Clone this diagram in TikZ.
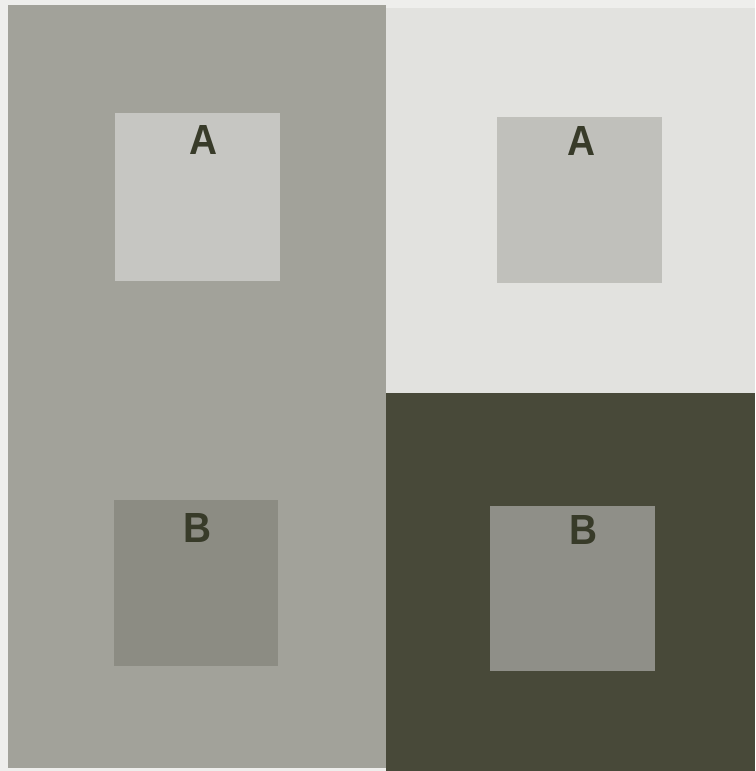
\documentclass[tikz,border=0pt]{standalone}
\usepackage{fontspec}
\setsansfont{Liberation Sans}
\usepackage{xcolor}
\usetikzlibrary{positioning}

\definecolor{paper}{HTML}{EEEEEC}
\definecolor{midgrey}{HTML}{A2A29A}
\definecolor{lightgrey}{HTML}{E2E2DF}
\definecolor{darkolive}{HTML}{484939}
\definecolor{patchA}{HTML}{C6C6C2}
\definecolor{patchAr}{HTML}{C0C0BB}
\definecolor{patchB}{HTML}{8C8C83}
\definecolor{patchBr}{HTML}{8F8F88}
\definecolor{ink}{HTML}{383B29}

\begin{document}
\begin{tikzpicture}[
    x=0.02cm, y=-0.02cm,
    panel/.style={rectangle, draw=none, anchor=north west, inner sep=0pt},
    patch/.style={rectangle, draw=none, anchor=north west, inner sep=0pt, minimum width=3.3cm, minimum height=3.34cm},
    letter/.style={font=\sffamily\bfseries\fontsize{24}{28}\selectfont, text=ink, inner sep=0pt, xscale=0.92},
]

\useasboundingbox (0,0) rectangle (755,771);
\fill[paper] (0,0) rectangle (755,771);

% backgrounds
\node[panel, fill=midgrey, minimum width=7.56cm, minimum height=15.26cm] (left) at (8,5) {};
\node[panel, fill=lightgrey, minimum width=7.38cm, minimum height=7.7cm] (topright) at (386,8) {};
\node[panel, fill=darkolive, minimum width=7.38cm, minimum height=7.56cm] (botright) at (386,393) {};

% test patches
\node[patch, fill=patchA, minimum height=3.36cm] (aL) at (115,113) {};
\node[patch, fill=patchAr, minimum height=3.32cm] (aR) at (497,117) {};
\node[patch, fill=patchB, minimum width=3.28cm, minimum height=3.32cm] (bL) at (114,500) {};
\node[patch, fill=patchBr, minimum height=3.3cm] (bR) at (490,506) {};

% labels
\node[letter] (labAL) at (204,140) {A};
\node[letter] (labAR) at (582,141) {A};
\node[letter] (labBL) at (198,528) {B};
\node[letter] (labBR) at (584,530) {B};

\end{tikzpicture}
\end{document}
